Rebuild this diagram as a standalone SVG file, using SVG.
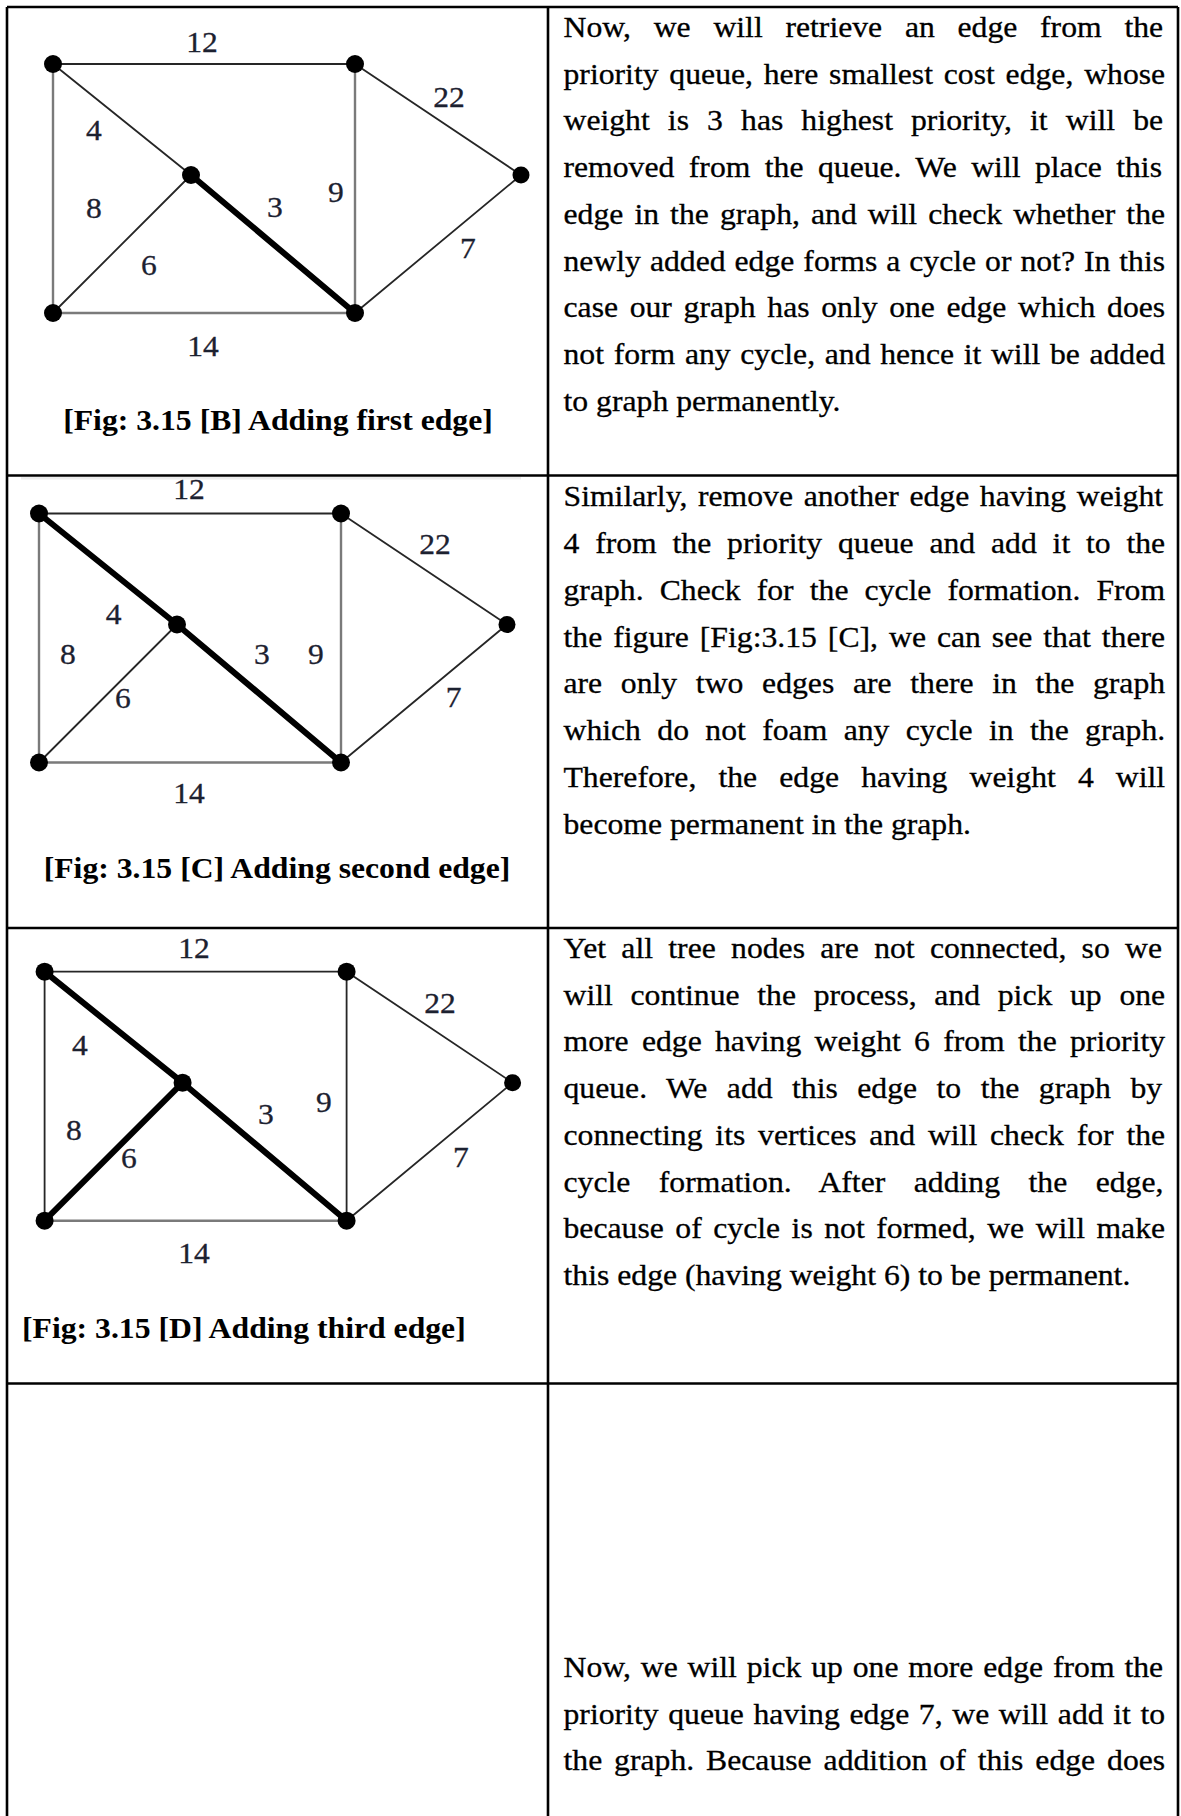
<svg xmlns="http://www.w3.org/2000/svg" width="1181" height="1816" viewBox="0 0 1181 1816">
<style>
.tbl{stroke:#000;stroke-width:2.6;fill:none}
.e{stroke:#262626;stroke-width:1.8;fill:none;stroke-linecap:round}
.eg{stroke:#7a7a7a;stroke-width:2.4}
.eb{stroke:#000;stroke-width:6}
.n{fill:#000}
.lbl{font-family:"Liberation Serif","Times New Roman",serif;font-size:29.5px;fill:#1c2130;stroke:#1c2130;stroke-width:0.3;text-anchor:middle}
.cap{font-family:"Liberation Serif","Times New Roman",serif;font-size:29.5px;font-weight:bold;fill:#000}
.p{font-family:"Liberation Serif","Times New Roman",serif;font-size:29.5px;fill:#000;stroke:#000;stroke-width:0.3}
</style>
<rect width="1181" height="1816" fill="#fff"/>

<g id="table" class="tbl">
  <line x1="7" y1="7" x2="1178" y2="7"/>
  <line x1="7" y1="7" x2="7" y2="1816"/>
  <line x1="1178" y1="7" x2="1178" y2="1816"/>
  <line x1="548" y1="7" x2="548" y2="1816"/>
  <line x1="7" y1="475.5" x2="1178" y2="475.5"/>
  <line x1="7" y1="928" x2="1178" y2="928"/>
  <line x1="7" y1="1383.5" x2="1178" y2="1383.5"/>
</g>
<rect x="21" y="477" width="500" height="2.5" fill="#ececec"/>

<!-- Figure B -->
<g id="figB" transform="translate(53,64)">
  <g id="figB-connectors">
    <line class="e" x1="0" y1="0" x2="302" y2="0"/>
    <line class="e eg" x1="0" y1="0" x2="0" y2="249"/>
    <line class="e" x1="0" y1="0" x2="138" y2="111"/>
    <line class="e" x1="138" y1="111" x2="0" y2="249"/>
    <line class="e eb" x1="138" y1="111" x2="302" y2="249"/>
    <line class="e eg" x1="302" y1="0" x2="302" y2="249"/>
    <line class="e" x1="302" y1="0" x2="468" y2="111"/>
    <line class="e" x1="468" y1="111" x2="302" y2="249"/>
    <line class="e eg" x1="0" y1="249" x2="302" y2="249"/>
  </g>
  <g id="figB-TL"><circle class="n" cx="0" cy="0" r="9"/></g>
  <g id="figB-TR"><circle class="n" cx="302" cy="0" r="9"/></g>
  <g id="figB-M"><circle class="n" cx="138" cy="111" r="9"/></g>
  <g id="figB-R"><circle class="n" cx="468" cy="111" r="8.5"/></g>
  <g id="figB-BL"><circle class="n" cx="0" cy="249" r="9"/></g>
  <g id="figB-BR"><circle class="n" cx="302" cy="249" r="9"/></g>
  <g id="figB-labels">
    <text class="lbl" transform="translate(149,-12) scale(1.07,1)">12</text>
    <text class="lbl" transform="translate(396,43) scale(1.07,1)">22</text>
    <text class="lbl" transform="translate(41,76) scale(1.07,1)">4</text>
    <text class="lbl" transform="translate(41,154) scale(1.07,1)">8</text>
    <text class="lbl" transform="translate(283,138) scale(1.07,1)">9</text>
    <text class="lbl" transform="translate(222,153) scale(1.07,1)">3</text>
    <text class="lbl" transform="translate(415,194) scale(1.07,1)">7</text>
    <text class="lbl" transform="translate(96,211) scale(1.07,1)">6</text>
    <text class="lbl" transform="translate(150,292) scale(1.07,1)">14</text>
  </g>
</g>
<text class="cap" text-anchor="middle" transform="translate(278,430) scale(1.075,1)">[Fig: 3.15 [B] Adding first edge]</text>

<!-- Figure C -->
<g id="figC" transform="translate(39,513.5)">
  <g id="figC-connectors">
    <line class="e" x1="0" y1="0" x2="302" y2="0"/>
    <line class="e eg" x1="0" y1="0" x2="0" y2="249"/>
    <line class="e eb" x1="0" y1="0" x2="138" y2="111"/>
    <line class="e" x1="138" y1="111" x2="0" y2="249"/>
    <line class="e eb" x1="138" y1="111" x2="302" y2="249"/>
    <line class="e eg" x1="302" y1="0" x2="302" y2="249"/>
    <line class="e" x1="302" y1="0" x2="468" y2="111"/>
    <line class="e" x1="468" y1="111" x2="302" y2="249"/>
    <line class="e eg" x1="0" y1="249" x2="302" y2="249"/>
  </g>
  <g id="figC-TL"><circle class="n" cx="0" cy="0" r="9"/></g>
  <g id="figC-TR"><circle class="n" cx="302" cy="0" r="9"/></g>
  <g id="figC-M"><circle class="n" cx="138" cy="111" r="9"/></g>
  <g id="figC-R"><circle class="n" cx="468" cy="111" r="8.5"/></g>
  <g id="figC-BL"><circle class="n" cx="0" cy="249" r="9"/></g>
  <g id="figC-BR"><circle class="n" cx="302" cy="249" r="9"/></g>
  <g id="figC-labels">
    <text class="lbl" transform="translate(150,-14.5) scale(1.07,1)">12</text>
    <text class="lbl" transform="translate(396,40.5) scale(1.07,1)">22</text>
    <text class="lbl" transform="translate(74.6,110.5) scale(1.07,1)">4</text>
    <text class="lbl" transform="translate(29,150.5) scale(1.07,1)">8</text>
    <text class="lbl" transform="translate(223,150.5) scale(1.07,1)">3</text>
    <text class="lbl" transform="translate(277,150.5) scale(1.07,1)">9</text>
    <text class="lbl" transform="translate(84,194.5) scale(1.07,1)">6</text>
    <text class="lbl" transform="translate(414.6,193.5) scale(1.07,1)">7</text>
    <text class="lbl" transform="translate(150,289.5) scale(1.07,1)">14</text>
  </g>
</g>
<text class="cap" text-anchor="middle" transform="translate(277,878) scale(1.075,1)">[Fig: 3.15 [C] Adding second edge]</text>

<!-- Figure D -->
<g id="figD" transform="translate(44.6,971.7)">
  <g id="figD-connectors">
    <line class="e" x1="0" y1="0" x2="302" y2="0"/>
    <line class="e" x1="0" y1="0" x2="0" y2="249"/>
    <line class="e eb" x1="0" y1="0" x2="138" y2="111"/>
    <line class="e eb" x1="138" y1="111" x2="0" y2="249"/>
    <line class="e eb" x1="138" y1="111" x2="302" y2="249"/>
    <line class="e" x1="302" y1="0" x2="302" y2="249"/>
    <line class="e" x1="302" y1="0" x2="468" y2="111"/>
    <line class="e" x1="468" y1="111" x2="302" y2="249"/>
    <line class="e eg" x1="0" y1="249" x2="302" y2="249"/>
  </g>
  <g id="figD-TL"><circle class="n" cx="0" cy="0" r="9"/></g>
  <g id="figD-TR"><circle class="n" cx="302" cy="0" r="9"/></g>
  <g id="figD-M"><circle class="n" cx="138" cy="111" r="9"/></g>
  <g id="figD-R"><circle class="n" cx="468" cy="111" r="8.5"/></g>
  <g id="figD-BL"><circle class="n" cx="0" cy="249" r="9"/></g>
  <g id="figD-BR"><circle class="n" cx="302" cy="249" r="9"/></g>
  <g id="figD-labels">
    <text class="lbl" transform="translate(149.4,-13.7) scale(1.07,1)">12</text>
    <text class="lbl" transform="translate(395.4,41.3) scale(1.07,1)">22</text>
    <text class="lbl" transform="translate(35.4,83.3) scale(1.07,1)">4</text>
    <text class="lbl" transform="translate(29.4,168.3) scale(1.07,1)">8</text>
    <text class="lbl" transform="translate(221.4,152.3) scale(1.07,1)">3</text>
    <text class="lbl" transform="translate(279.4,140.3) scale(1.07,1)">9</text>
    <text class="lbl" transform="translate(84.4,196.3) scale(1.07,1)">6</text>
    <text class="lbl" transform="translate(416.4,195.3) scale(1.07,1)">7</text>
    <text class="lbl" transform="translate(149.4,291.3) scale(1.07,1)">14</text>
  </g>
</g>
<text class="cap" transform="translate(22,1338) scale(1.075,1)">[Fig: 3.15 [D] Adding third edge]</text>

<!-- Text paragraphs -->
<g id="text-row1" class="p" transform="translate(563.5,0) scale(1.075,1)">
  <text x="0" y="37" word-spacing="13.76">Now, we will retrieve an edge from the</text>
  <text x="0" y="83.75" word-spacing="2.67">priority queue, here smallest cost edge, whose</text>
  <text x="0" y="130.5" word-spacing="9.46">weight is 3 has highest priority, it will be</text>
  <text x="0" y="177.25" word-spacing="6.03">removed from the queue. We will place this</text>
  <text x="0" y="224" word-spacing="2.92">edge in the graph, and will check whether the</text>
  <text x="0" y="270.75" word-spacing="0.96">newly added edge forms a cycle or not? In this</text>
  <text x="0" y="317.5" word-spacing="3.44">case our graph has only one edge which does</text>
  <text x="0" y="364.25" word-spacing="1.60">not form any cycle, and hence it will be added</text>
  <text x="0" y="411">to graph permanently.</text>
</g>
<g id="text-row2" class="p" transform="translate(563.5,0) scale(1.075,1)">
  <text x="0" y="506.5" word-spacing="2.54">Similarly, remove another edge having weight</text>
  <text x="0" y="553.25" word-spacing="7.33">4 from the priority queue and add it to the</text>
  <text x="0" y="600" word-spacing="7.58">graph. Check for the cycle formation. From</text>
  <text x="0" y="646.75" word-spacing="2.82">the figure [Fig:3.15 [C], we can see that there</text>
  <text x="0" y="693.5" word-spacing="9.99">are only two edges are there in the graph</text>
  <text x="0" y="740.25" word-spacing="7.84">which do not foam any cycle in the graph.</text>
  <text x="0" y="787" word-spacing="13.18">Therefore, the edge having weight 4 will</text>
  <text x="0" y="833.75">become permanent in the graph.</text>
</g>
<g id="text-row3" class="p" transform="translate(563.5,0) scale(1.075,1)">
  <text x="0" y="958" word-spacing="6.82">Yet all tree nodes are not connected, so we</text>
  <text x="0" y="1004.75" word-spacing="9.07">will continue the process, and pick up one</text>
  <text x="0" y="1051.5" word-spacing="4.97">more edge having weight 6 from the priority</text>
  <text x="0" y="1098.25" word-spacing="10.71">queue. We add this edge to the graph by</text>
  <text x="0" y="1145" word-spacing="4.51">connecting its vertices and will check for the</text>
  <text x="0" y="1191.75" word-spacing="19.10">cycle formation. After adding the edge,</text>
  <text x="0" y="1238.5" word-spacing="3.33">because of cycle is not formed, we will make</text>
  <text x="0" y="1285.25">this edge (having weight 6) to be permanent.</text>
</g>
<g id="text-row4" class="p" transform="translate(563.5,0) scale(1.075,1)">
  <text x="0" y="1677" word-spacing="1.78">Now, we will pick up one more edge from the</text>
  <text x="0" y="1723.75" word-spacing="1.59">priority queue having edge 7, we will add it to</text>
  <text x="0" y="1770.5" word-spacing="3.69">the graph. Because addition of this edge does</text>
</g>
</svg>
